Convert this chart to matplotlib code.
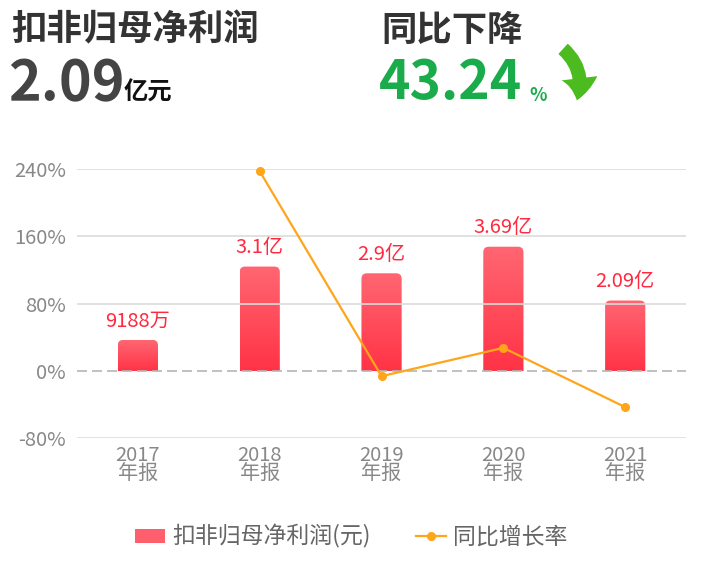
import matplotlib
matplotlib.use("Agg")
import matplotlib.pyplot as plt
import numpy as np
from matplotlib.patches import FancyBboxPatch, FancyArrowPatch
from matplotlib.lines import Line2D
from matplotlib.colors import LinearSegmentedColormap

plt.rcParams['font.family'] = ['Noto Sans CJK SC', 'DejaVu Sans']

# data
years = ['2017\n年报', '2018\n年报', '2019\n年报', '2020\n年报', '2021\n年报']
profit = [0.9188, 3.1, 2.9, 3.69, 2.09]          # 亿元
profit_labels = ['9188万', '3.1亿', '2.9亿', '3.69亿', '2.09亿']
growth = [np.nan, 237.4, -6.45, 27.24, -43.24]   # %
pct_ticks = [-80, 0, 80, 160, 240]

fig = plt.figure(figsize=(7.03, 5.81), dpi=100)
ax = fig.add_axes([0.1095, 0.2461, 0.8665, 0.4629])
ax2 = ax.twinx()
ax.set_zorder(ax2.get_zorder() + 1)
ax.patch.set_visible(False)

x = np.arange(len(years))
ax.set_xlim(-0.5, 4.5)
ax.set_ylim(-80, 240)

# grid lines
for t in pct_ticks:
    if t == 0:
        ax.axhline(t, color='#b5b5b5', lw=1.2, ls=(0, (6, 3)), zorder=1)
    else:
        ax.axhline(t, color='#dcdcdc', lw=1.2, zorder=0)

ax.set_yticks(pct_ticks)
ax.set_yticklabels([f'{t}%' for t in pct_ticks])
ax.set_xticks(x)
ax.set_xticklabels(years, linespacing=0.9)
ax.tick_params(axis='y', length=0, labelsize=14.5, labelcolor='#888888', pad=8)
ax.tick_params(axis='x', length=0, labelsize=14.5, labelcolor='#888888', pad=5)
ax2.set_yticks([])
for a in (ax, ax2):
    for s in a.spines.values():
        s.set_visible(False)

# gradient bars with rounded top
cmap = LinearSegmentedColormap.from_list('bar', ['#ff6672', '#ff3346'])
grad = np.linspace(0, 1, 100).reshape(-1, 1)
bw = 0.33
for xi, v, lab in zip(x, profit, profit_labels):
    patch = FancyBboxPatch((xi - bw / 2, -0.3), bw, v + 0.3,
                           boxstyle='round,pad=0,rounding_size=0.045',
                           mutation_aspect=3.62, transform=ax2.transData,
                           facecolor='none', edgecolor='none')
    ax2.add_patch(patch)
    im = ax2.imshow(grad, cmap=cmap, aspect='auto',
                    extent=(xi - bw / 2, xi + bw / 2, 0, v), zorder=2)
    im.set_clip_path(patch)
    ax2.text(xi, v + 0.25, lab, ha='center', va='bottom', color='#ff2a40', fontsize=14.5)
ax2.set_xlim(-0.5, 4.5)
ax2.set_ylim(-2, 6)

# growth line
ax.plot(x, growth, color='#ffa51a', lw=1.6, marker='o', ms=5.5, zorder=5, clip_on=False)

# legend
h_bar = FancyBboxPatch((0, 0), 1, 1, boxstyle='round,pad=0,rounding_size=0.2',
                       facecolor='#ff5e6c', edgecolor='none')
h_line = Line2D([], [], color='#ffa51a', lw=1.6, marker='o', ms=5.5)
fig.legend([h_bar, h_line], ['扣非归母净利润(元)', '同比增长率'], loc='center',
           bbox_to_anchor=(0.5, 0.076), ncol=2, frameon=False, fontsize=16.5,
           labelcolor='#666666', handlelength=1.3, handleheight=0.6,
           columnspacing=2.0, handletextpad=0.3)

# header
fig.text(11 / 703, 1 - 30 / 581, '扣非归母净利润', fontsize=25.5, fontweight='bold',
         color='#333333', va='center', ha='left')
fig.text(8 / 703, 1 - 84 / 581, '2.09', fontsize=40, fontweight='bold',
         color='#444444', va='center', ha='left')
fig.text(124 / 703, 1 - 93 / 581, '亿元', fontsize=17.5, fontweight='bold',
         color='#111111', va='center', ha='left')
fig.text(381 / 703, 1 - 30 / 581, '同比下降', fontsize=25.5, fontweight='bold',
         color='#333333', va='center', ha='left')
fig.text(379 / 703, 1 - 84 / 581, '43.24', fontsize=38.5, fontweight='bold',
         color='#1aab4b', va='center', ha='left')
fig.text(529 / 703, 1 - 95 / 581, '%', fontsize=13, fontweight='bold',
         color='#1aab4b', va='center', ha='left')
arrow = FancyArrowPatch((561 / 703, 1 - 47 / 581), (576 / 703, 1 - 103 / 581),
                        transform=fig.transFigure, connectionstyle='arc3,rad=-0.35',
                        arrowstyle='simple,head_width=2.6,head_length=1.6,tail_width=1.0',
                        mutation_scale=10, color='#4cbb1f', lw=0)
fig.add_artist(arrow)

plt.savefig('out.png', dpi=100)
